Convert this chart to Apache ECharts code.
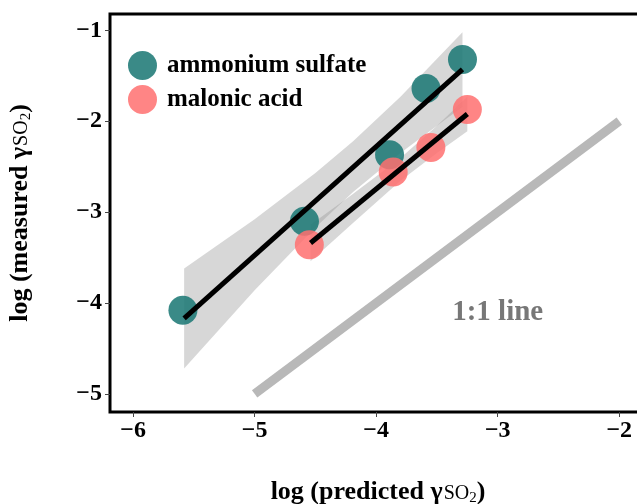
<!DOCTYPE html>
<html>
<head>
<meta charset="utf-8">
<script src="https://cdn.jsdelivr.net/npm/echarts@6/dist/echarts.min.js"></script>
<style>
  html, body { margin: 0; padding: 0; background: #fff; overflow: hidden; }
  #chart { width: 648px; height: 504px; }
</style>
</head>
<body>
<div id="chart"></div>
<script>
// 数据：估计值
var xTicks = [-6, -5, -4, -3, -2];
var yTicks = [-5, -4, -3, -2, -1];

// ammonium sulfate 点
var asPoints = [[-5.59, -4.08], [-4.59, -3.10], [-3.89, -2.37], [-3.59, -1.64], [-3.29, -1.32]];
// malonic acid 点
var maPoints = [[-4.55, -3.36], [-3.86, -2.56], [-3.55, -2.29], [-3.25, -1.87]];

// 回归线端点
var asFit = [[-5.58, -4.17], [-3.29, -1.43]];
var maFit = [[-4.54, -3.34], [-3.25, -1.92]];

// 置信带 [x, 下界, 上界]
var asBand = [[-5.58, -4.72, -3.62], [-5.0, -3.86, -3.08], [-4.5, -3.17, -2.57], [-4.19, -2.78, -2.22],
              [-3.8, -2.35, -1.73], [-3.29, -1.84, -1.02]];
var maBand = [[-4.54, -3.54, -3.14], [-4.2, -3.13, -2.81], [-3.8, -2.655, -2.405],
              [-3.5, -2.35, -2.05], [-3.25, -2.11, -1.73]];

// 1:1 线
var oneToOne = [[-5, -5], [-2, -2]];
var oneToOneLabel = [[-3.0, -4.11]];

var serif = '"Liberation Serif", "DejaVu Serif", serif';

function minusFmt(v) {
    return String(v).replace('-', '\u2212');
}

// 用自定义系列画置信带多边形
function bandSeries(band) {
    return {
        type: 'custom',
        silent: true,
        data: band,
        z: 1,
        renderItem: function (params, api) {
            if (params.dataIndex !== 0) {
                return null;
            }
            var pts = [];
            var i;
            for (i = 0; i < band.length; i++) {
                pts.push(api.coord([band[i][0], band[i][2]]));
            }
            for (i = band.length - 1; i >= 0; i--) {
                pts.push(api.coord([band[i][0], band[i][1]]));
            }
            return {
                type: 'polygon',
                shape: {points: pts},
                style: {fill: 'rgba(150,150,150,0.38)'}
            };
        }
    };
}

var nameRich = {
    b: {fontFamily: serif, fontWeight: 'bold', fontSize: 26, color: '#000'},
    so: {fontFamily: serif, fontWeight: 'normal', fontSize: 20, color: '#000', padding: [3, 0, 0, 1]},
    sub: {fontFamily: serif, fontWeight: 'normal', fontSize: 15, color: '#000', padding: [13, 0, 0, 0]}
};

var chart = echarts.init(document.getElementById('chart'));
var option = {
    animation: false,
    grid: {
        left: 110,
        top: 14,
        bottom: 92,
        right: 2,
        outerBoundsMode: 'none',
        containLabel: false,
        show: true,
        borderColor: '#000',
        borderWidth: 3
    },
    legend: {
        left: 123,
        top: 46,
        orient: 'vertical',
        itemWidth: 29,
        itemHeight: 29,
        itemGap: 5,
        icon: 'circle',
        data: ['ammonium sulfate', 'malonic acid'],
        textStyle: {fontFamily: serif, fontWeight: 'bold', fontSize: 25, color: '#000', padding: [0, 0, 0, 5]}
    },
    xAxis: {
        type: 'value',
        min: -6.19,
        max: -1.78,
        splitLine: {show: false},
        axisLine: {show: false},
        axisTick: {show: true, customValues: xTicks, length: 5, lineStyle: {color: '#444'}},
        axisLabel: {
            customValues: xTicks,
            formatter: minusFmt,
            fontFamily: serif, fontWeight: 'bold', fontSize: 24, color: '#000', margin: 7
        },
        name: '{b|log (predicted γ}{so|SO}{sub|2}{b|)}',
        nameLocation: 'middle',
        nameGap: 66,
        nameTextStyle: {rich: nameRich}
    },
    yAxis: {
        type: 'value',
        min: -5.2,
        max: -0.82,
        splitLine: {show: false},
        axisLine: {show: false},
        axisTick: {show: true, customValues: yTicks, length: 5, lineStyle: {color: '#444'}},
        axisLabel: {
            customValues: yTicks,
            formatter: minusFmt,
            fontFamily: serif, fontWeight: 'bold', fontSize: 24, color: '#000', margin: 8
        },
        name: '{b|log (measured γ}{so|SO}{sub|2}{b|)}',
        nameLocation: 'middle',
        nameGap: 76,
        nameTextStyle: {rich: nameRich}
    },
    series: [
        bandSeries(asBand),
        bandSeries(maBand),
        {
            type: 'line',
            data: oneToOne,
            symbol: 'none',
            silent: true,
            z: 2,
            lineStyle: {color: '#b8b8b8', width: 9, cap: 'butt'}
        },
        {
            type: 'scatter',
            data: oneToOneLabel,
            symbolSize: 0,
            silent: true,
            label: {
                show: true,
                position: 'inside',
                formatter: '1:1 line',
                fontFamily: serif, fontWeight: 'bold', fontSize: 29, color: '#555'
            }
        },
        {
            name: 'ammonium sulfate',
            type: 'scatter',
            data: asPoints,
            symbolSize: 29,
            z: 3,
            itemStyle: {color: '#1f7a76', opacity: 0.88}
        },
        {
            name: 'malonic acid',
            type: 'scatter',
            data: maPoints,
            symbolSize: 29,
            z: 3,
            itemStyle: {color: '#ff7070', opacity: 0.85}
        },
        {
            type: 'line',
            data: asFit,
            symbol: 'none',
            silent: true,
            z: 4,
            lineStyle: {color: '#000', width: 5}
        },
        {
            type: 'line',
            data: maFit,
            symbol: 'none',
            silent: true,
            z: 4,
            lineStyle: {color: '#000', width: 5}
        }
    ]
};
chart.setOption(option);
</script>
</body>
</html>
